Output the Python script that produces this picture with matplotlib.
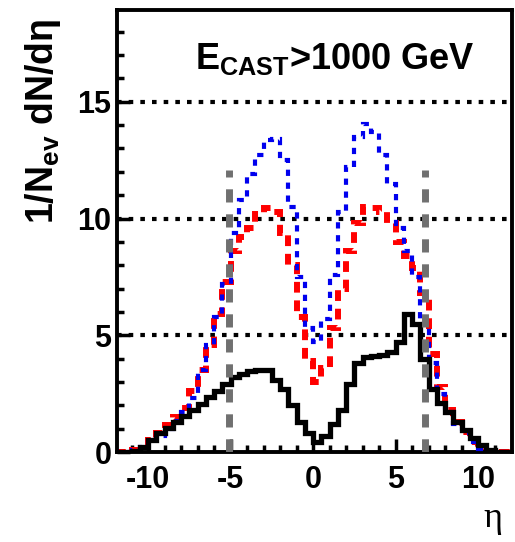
import numpy as np
import matplotlib
matplotlib.use("Agg")
import matplotlib.pyplot as plt

# 0.5-wide eta bins from -12 to 12
bin_lo, bin_hi, bin_w = -12.0, 12.0, 0.5

# black solid histogram
black_vals = [0.0, 0.0, 0.05, 0.2, 0.5, 0.8, 1.05, 1.3, 1.55, 1.8, 2.05, 2.35,
              2.6, 2.9, 3.2, 3.35, 3.45, 3.5, 3.5, 3.1, 2.7, 2.0, 1.3, 0.8,
              0.45, 0.7, 1.2, 1.8, 2.9, 3.8, 4.05, 4.1, 4.15, 4.3, 4.7, 5.9,
              5.5, 4.0, 2.7, 2.1, 1.7, 1.3, 0.95, 0.6, 0.3, 0.1, 0.02, 0.0]

# red dashed histogram
red_vals = [0.0, 0.02, 0.1, 0.25, 0.5, 0.8, 1.15, 1.5, 1.9, 2.6, 3.5, 4.6,
            5.9, 7.3, 8.6, 9.2, 9.6, 10.2, 10.45, 10.3, 9.4, 8.0, 5.8, 3.9,
            3.0, 3.6, 5.3, 7.0, 8.6, 9.8, 10.5, 10.45, 10.3, 9.8, 9.0, 8.4,
            7.9, 6.8, 4.2, 2.8, 1.8, 1.3, 0.85, 0.45, 0.15, 0.05, 0.0, 0.0]

# blue dotted histogram
blue_vals = [0.0, 0.02, 0.08, 0.22, 0.45, 0.7, 1.0, 1.35, 1.7, 2.3, 3.5, 4.6,
             5.8, 7.2, 9.4, 10.8, 11.9, 12.7, 13.35, 13.4, 12.5, 10.5, 7.5, 5.3,
             4.7, 5.7, 7.6, 10.3, 12.2, 13.5, 14.05, 13.7, 12.7, 11.5, 9.6, 8.6,
             7.5, 5.5, 3.8, 2.5, 1.7, 1.2, 0.8, 0.45, 0.15, 0.05, 0.0, 0.0]

# CASTOR acceptance edges and their height
castor_edges = [-5.1, 6.8]
castor_top = 12.1

grid_levels = [5, 10, 15]
y_major = [0, 5, 10, 15]
x_major = [-10, -5, 0, 5, 10]

plt.rcParams['font.family'] = ['Liberation Sans', 'DejaVu Sans']
plt.rcParams['mathtext.fontset'] = 'custom'
plt.rcParams['mathtext.rm'] = 'Liberation Sans:bold'
plt.rcParams['mathtext.it'] = 'Liberation Sans:bold'
plt.rcParams['mathtext.bf'] = 'Liberation Sans:bold'

fig = plt.figure(figsize=(5.15, 5.42), dpi=100)
ax = fig.add_axes([0.227, 0.166, 0.767, 0.8155])

edges = np.arange(bin_lo, bin_hi + bin_w / 2, bin_w)

# horizontal dotted reference lines
for g in grid_levels:
    ax.axhline(g, color='black', lw=3.0, linestyle=(0, (1.1, 1.7)), zorder=1)

ax.stairs(red_vals, edges, baseline=None, color='#ff0000', lw=4.3,
          linestyle=(0, (1.8, 1.3)), zorder=2)
ax.stairs(blue_vals, edges, baseline=None, color='#0000ee', lw=3.0,
          linestyle=(0, (1.5, 1.6)), zorder=3)
ax.stairs(black_vals, edges, baseline=None, color='black', lw=3.8, zorder=4)

for xe in castor_edges:
    ax.plot([xe, xe], [0, castor_top], color='#707070', lw=5.0,
            linestyle=(0, (1.9, 1.7)), zorder=5)

ax.text(-7.15, 16.4, r'E$_{\rm CAST}$>1000 GeV', fontsize=26,
        fontweight='bold', ha='left', va='baseline')

ax.set_xlim(-11.9, 12.05)
ax.set_ylim(0, 18.93)
ax.set_xticks(x_major)
ax.set_yticks(y_major)
ax.set_xticks(np.arange(-11, 12, 1), minor=True)
ax.set_yticks(np.arange(0, 19, 1), minor=True)
ax.set_xticklabels([str(v) for v in x_major], fontsize=22, fontweight='bold')
ax.set_yticklabels([str(v) for v in y_major], fontsize=22, fontweight='bold')
ax.tick_params(which='both', direction='in', top=False, right=False, width=2.5)
ax.tick_params(which='major', length=9.5)
ax.tick_params(which='minor', length=5)
ax.tick_params(axis='x', pad=9)
ax.tick_params(axis='y', pad=4)
for sp in ax.spines.values():
    sp.set_linewidth(2.8)

ax.set_ylabel(r'1/N$_{ev}$ dN/d$\eta$', fontsize=27, fontweight='bold')
ax.yaxis.set_label_coords(-0.137, 0.748)

fig.text(0.957, 0.028, 'η', fontsize=26, family='Liberation Serif',
         ha='center', va='baseline')

fig.savefig('out.png', dpi=100)
